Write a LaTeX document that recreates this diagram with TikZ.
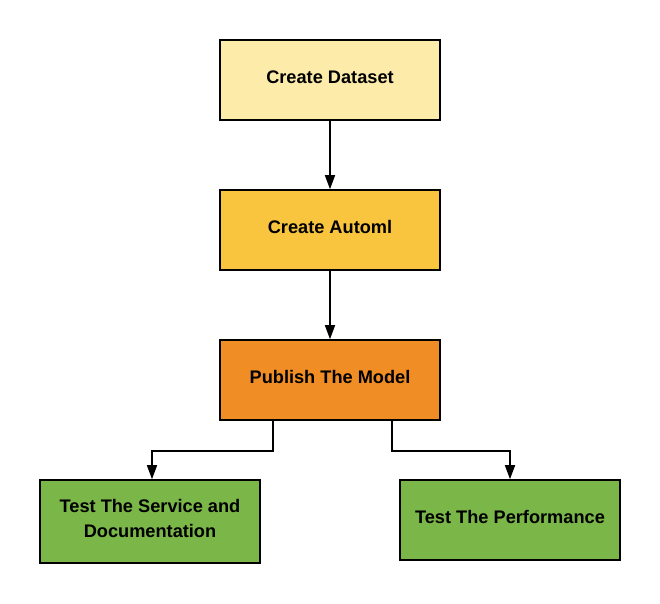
\documentclass[tikz,border=0pt]{standalone}
\usepackage{fontspec}
\setmainfont{Liberation Sans}
\usetikzlibrary{arrows.meta}

\definecolor{dataYellow}{HTML}{FDEBAA}
\definecolor{automlGold}{HTML}{F9C43E}
\definecolor{modelOrange}{HTML}{F08E25}
\definecolor{testGreen}{HTML}{7AB648}

\tikzset{
    stage/.style={draw=black, line width=1.6pt, minimum width=220pt,
        minimum height=80pt, align=center, inner sep=0pt, text depth=6pt,
        font=\fontsize{18.2}{25}\selectfont\bfseries},
    flow/.style={line width=1.6pt, -{Triangle[length=14pt,width=10pt]}}
}

\begin{document}
\begin{tikzpicture}[x=1pt, y=-1pt]
\useasboundingbox[fill=white] (0,0) rectangle (660,603);

% Pipeline boxes
\node[stage, fill=dataYellow] (dataset) at (330,80) {Create Dataset};
\node[stage, fill=automlGold] (automl) at (330,230) {Create Automl};
\node[stage, fill=modelOrange] (publish) at (330,380) {Publish The Model};

% Tests
\node[stage, fill=testGreen, minimum height=83pt] (service) at (150,521.5) {Test The Service and\\Documentation};
\node[stage, fill=testGreen] (perf) at (510,520) {Test The Performance};

% Arrows
\draw[flow] (dataset) -- (automl);
\draw[flow] (automl) -- (publish);
\draw[flow] ([xshift=-57pt]publish.south) -- ++(0,30) -| ([xshift=2pt]service.north);
\draw[flow] ([xshift=62pt]publish.south) -- ++(0,30) -| (perf.north);

\end{tikzpicture}
\end{document}
